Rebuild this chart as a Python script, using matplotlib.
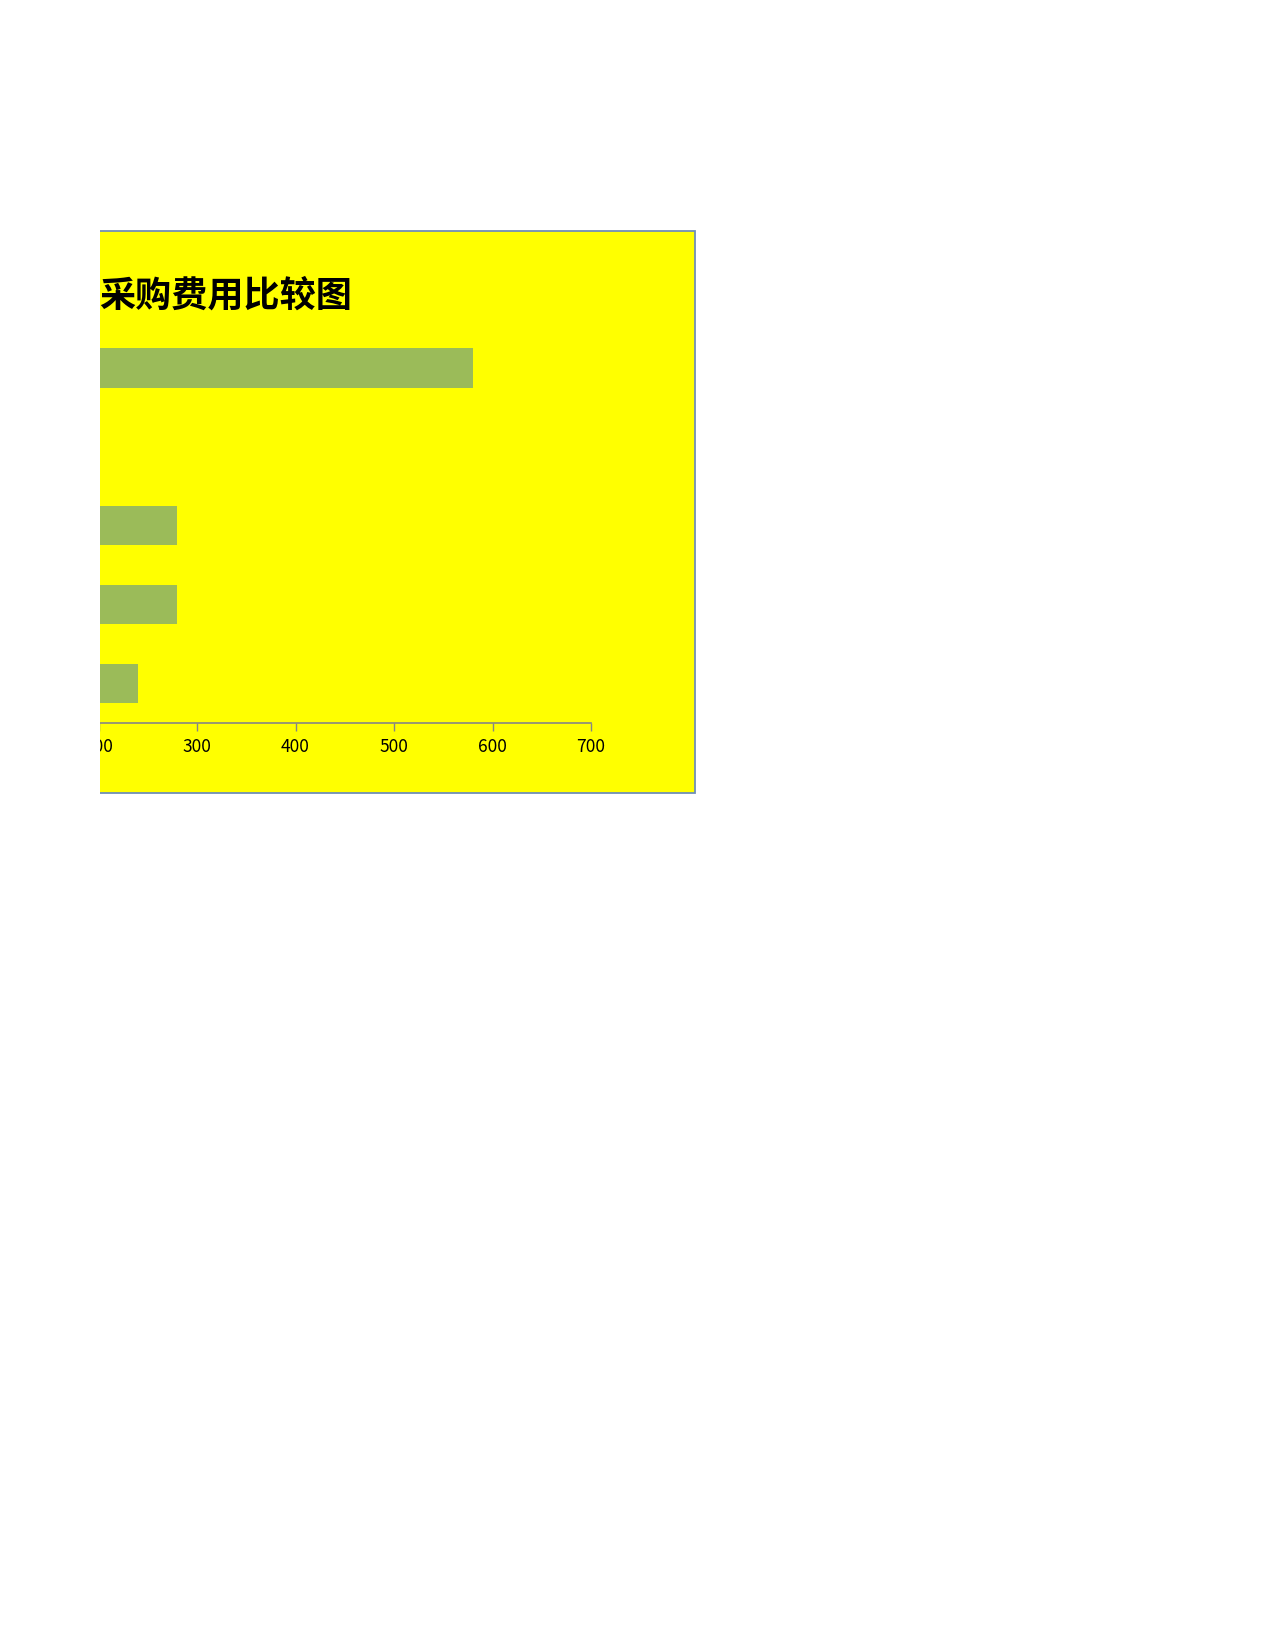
import matplotlib
matplotlib.use("Agg")
import matplotlib.pyplot as plt
from matplotlib.patches import Rectangle

plt.rcParams['font.family'] = ['Noto Sans CJK SC', 'DejaVu Sans']

# data (top to bottom); category names are cut off in the source picture
categories = ['项目1', '项目2', '项目3', '项目4', '项目5']
values = [580, 0, 280, 280, 240]
xticks = [0, 100, 200, 300, 400, 500, 600, 700]
title = '采购费用比较图'

W, H = 1275, 1650
fig = plt.figure(figsize=(W / 100, H / 100), dpi=100)
fig.patch.set_facecolor('white')

def px(x0, y0, x1, y1):
    # pixel box (top-left origin) -> figure fraction rect
    return [x0 / W, 1 - y1 / H, (x1 - x0) / W, (y1 - y0) / H]

# yellow chart panel (its left part is cut off in the reference)
r = px(-60, 231, 695, 793)
panel = Rectangle((r[0], r[1]), r[2], r[3], transform=fig.transFigure,
                  facecolor='#FFFF00', edgecolor='#6F8FB5', linewidth=1.3, zorder=0)
fig.add_artist(panel)

ax = fig.add_axes(px(-98.5, 328.5, 591, 723))
ax.set_facecolor('none')
ypos = list(range(len(categories)))
ax.barh(ypos, values, height=0.5, color='#9BBB59', zorder=2)
ax.set_ylim(len(categories) - 0.5, -0.5)
ax.set_xlim(0, 700)
ax.set_xticks(xticks)
# labels left of the page edge are not visible in the reference
ax.set_xticklabels([str(t) if t >= 200 else '' for t in xticks], fontsize=12.5)
ax.set_yticks(ypos)
ax.set_yticklabels([])
ax.tick_params(axis='x', direction='out', length=6, width=1, color='#868686', pad=5)
ax.tick_params(axis='y', length=0)
for s in ['top', 'right', 'left']:
    ax.spines[s].set_visible(False)
ax.spines['bottom'].set_color('#868686')
ax.spines['bottom'].set_linewidth(1.2)

fig.text(99 / W, 1 - 296 / H, title, fontsize=26, fontweight='bold',
         ha='left', va='center', color='black')

# page clipping: everything left of x=99 is blank
c = px(0, 0, 99.5, H)
fig.add_artist(Rectangle((c[0], c[1]), c[2], c[3], transform=fig.transFigure,
                         facecolor='white', edgecolor='none', zorder=20))

fig.savefig('out.png', dpi=100, facecolor='white')
